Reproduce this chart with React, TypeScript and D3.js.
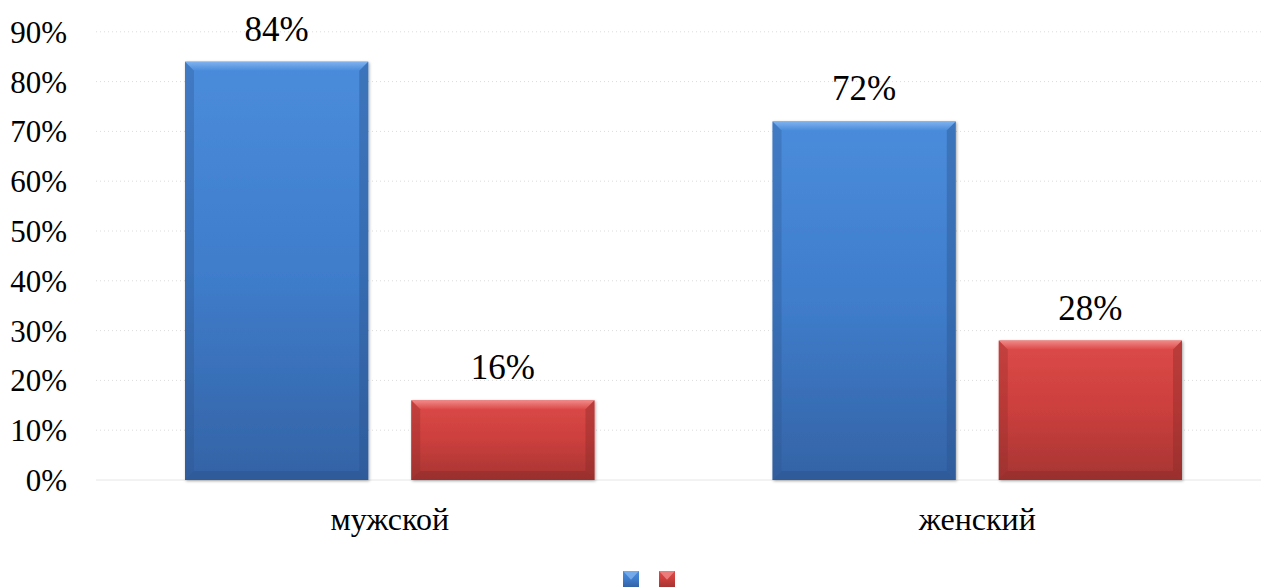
import React from "react";
import * as d3 from "d3";

const categories = ["мужской", "женский"];
const seriesKeys = ["s1", "s2"];
const seriesA = [0.84, 0.72];
const seriesB = [0.16, 0.28];
const tickValues = [0, 0.1, 0.2, 0.3, 0.4, 0.5, 0.6, 0.7, 0.8, 0.9];

const W = 1261;
const H = 588;
const FONT = '"Liberation Serif", "Times New Roman", serif';

const palettes: Record<string, { top: string; mid: string; bot: string; light: string; dark: string }> = {
  s1: { top: "#4a8cdb", mid: "#3f7dcb", bot: "#3463a6", light: "#7fb2ef", dark: "#2a528c" },
  s2: { top: "#dc4a48", mid: "#cb3f3d", bot: "#a63533", light: "#f08a88", dark: "#8a2a28" },
};

export default function App() {
  const y = d3.scaleLinear().domain([0, 0.9]).range([480, 31.8]);
  const x0 = d3.scaleBand<string>().domain(categories).range([96, 1271]).paddingInner(0).paddingOuter(0);
  const x1 = d3.scaleBand<string>().domain(seriesKeys).range([89, x0.bandwidth() - 89]).paddingInner(0.19).paddingOuter(0);
  const bw = x1.bandwidth();
  const values: Record<string, number[]> = { s1: seriesA, s2: seriesB };
  const fmt = (v: number) => `${Math.round(v * 100)}%`;
  const bev = 9;

  const bars: React.ReactNode[] = [];
  categories.forEach((c, ci) => {
    seriesKeys.forEach((k) => {
      const v = values[k][ci];
      const x = (x0(c) as number) + (x1(k) as number);
      const yt = y(v);
      const yb = y(0);
      const w = bw;
      const h = yb - yt;
      const p = palettes[k];
      bars.push(
        <g key={c + k}>
          <rect x={x} y={yt} width={w} height={h} fill={`url(#grad-${k})`} filter="url(#shadow)" />
          <polygon points={`${x},${yt} ${x + w},${yt} ${x + w - bev},${yt + bev} ${x + bev},${yt + bev}`} fill={`url(#top-${k})`} />
          <polygon points={`${x},${yt} ${x + bev},${yt + bev} ${x + bev},${yb - bev} ${x},${yb}`} fill={p.dark} opacity={0.3} />
          <polygon points={`${x + w},${yt} ${x + w - bev},${yt + bev} ${x + w - bev},${yb - bev} ${x + w},${yb}`} fill={p.dark} opacity={0.4} />
          <polygon points={`${x},${yb} ${x + bev},${yb - bev} ${x + w - bev},${yb - bev} ${x + w},${yb}`} fill={p.dark} opacity={0.45} />
          <text x={x + w / 2} y={yt - 21} textAnchor="middle" fontSize={35} style={{ fontFamily: FONT }} fill="#000">
            {fmt(v)}
          </text>
        </g>
      );
    });
  });

  return (
    <svg width={W} height={H} style={{ position: "absolute", left: 0, top: 0, background: "#fff" }}>
      <defs>
        {seriesKeys.map((k) => (
          <linearGradient key={"g" + k} id={`grad-${k}`} x1="0" y1="0" x2="0" y2="1">
            <stop offset="0%" stopColor={palettes[k].top} />
            <stop offset="50%" stopColor={palettes[k].mid} />
            <stop offset="100%" stopColor={palettes[k].bot} />
          </linearGradient>
        ))}
        {seriesKeys.map((k) => (
          <linearGradient key={"t" + k} id={`top-${k}`} x1="0" y1="0" x2="0" y2="1">
            <stop offset="0%" stopColor={palettes[k].light} />
            <stop offset="100%" stopColor={palettes[k].top} />
          </linearGradient>
        ))}
        <filter id="shadow" x="-10%" y="-10%" width="120%" height="120%">
          <feDropShadow dx="1" dy="1" stdDeviation="1.5" floodColor="#000" floodOpacity="0.35" />
        </filter>
      </defs>
      <g>
        {tickValues.map((t) => (
          <line key={"gl" + t} x1={96} x2={W} y1={y(t)} y2={y(t)} stroke={t === 0 ? "#e6e6e6" : "#dcdcdc"} strokeWidth={1} strokeDasharray={t === 0 ? undefined : "1 3"} />
        ))}
        {tickValues.map((t) => (
          <text key={"tl" + t} x={67} y={y(t) + 11} textAnchor="end" fontSize={31} style={{ fontFamily: FONT }} fill="#000">
            {fmt(t)}
          </text>
        ))}
      </g>
      {bars}
      {categories.map((c) => (
        <text key={"cl" + c} x={(x0(c) as number) + x0.bandwidth() / 2} y={530} textAnchor="middle" fontSize={32} style={{ fontFamily: FONT }} fill="#000">
          {c}
        </text>
      ))}
      <g>
        {seriesKeys.map((k, i) => {
          const lx = 623 + i * 36;
          const ly = 571;
          const s = 16;
          return (
            <g key={"lg" + k}>
              <rect x={lx} y={ly} width={s} height={s} fill={`url(#grad-${k})`} />
              <polygon points={`${lx},${ly} ${lx + s},${ly} ${lx + s / 2},${ly + s * 0.55}`} fill={palettes[k].light} opacity={0.8} />
            </g>
          );
        })}
      </g>
    </svg>
  );
}
